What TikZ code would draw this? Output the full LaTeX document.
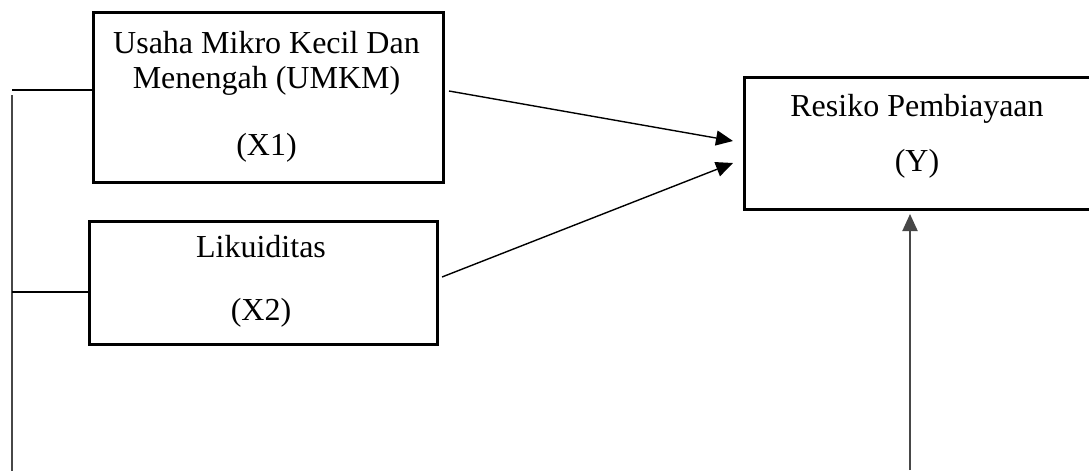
\documentclass[tikz,border=0pt]{standalone}
\usepackage{fontspec}
\setmainfont{Liberation Serif}
\usetikzlibrary{arrows.meta}
\tikzset{
  boxnode/.style={draw=black, line width=3pt, inner sep=0pt, anchor=north west},
  lbl/.style={anchor=base, inner sep=0pt, font=\fontsize{32}{36}\selectfont},
  conn/.style={draw=black, line width=1.4pt},
  grayconn/.style={draw=black!72, line width=2pt},
  arr/.style={-{Triangle[length=17pt,width=15pt]}}
}
\begin{document}
\begin{tikzpicture}[x=1pt,y=-1pt]
\useasboundingbox (0,0) rectangle (1089,471);
% boxes
\node[boxnode, minimum width=349.7pt, minimum height=169.2pt] (x1) at (92,11.3) {};
\node[boxnode, minimum width=348.3pt, minimum height=122.8pt] (x2) at (87.7,219.7) {};
\node[boxnode, minimum width=349pt, minimum height=132.3pt] (y) at (743,75.7) {};
% labels
\node[lbl] (x1a) at (266.5,53) {Usaha Mikro Kecil Dan};
\node[lbl] (x1b) at (266.5,88) {Menengah (UMKM)};
\node[lbl] (x1c) at (266.5,155) {(X1)};
\node[lbl] (x2a) at (261,257) {Likuiditas};
\node[lbl] (x2b) at (261,320) {(X2)};
\node[lbl] (ya) at (917,116) {Resiko Pembiayaan};
\node[lbl] (yb) at (917,171) {(Y)};
% coordinates
\coordinate (ltop) at (12,95);
\coordinate (lbot) at (12,471);
\coordinate (h1s) at (12,90);
\coordinate (h2s) at (12,292);
\coordinate (a1s) at (449,91);
\coordinate (a1e) at (733,141);
\coordinate (a2s) at (442,277);
\coordinate (a2e) at (733,163);
\coordinate (vs) at (910,470);
\coordinate (ve) at (910,214);
% connectors
\draw[grayconn] (ltop) -- (lbot);
\draw[conn] (h1s) -- (h1s -| x1.west);
\draw[conn] (h2s) -- (h2s -| x2.west);
\draw[conn, arr] (a1s) -- (a1e);
\draw[conn, arr] (a2s) -- (a2e);
\draw[grayconn, arr] (vs) -- (ve);
\end{tikzpicture}
\end{document}
